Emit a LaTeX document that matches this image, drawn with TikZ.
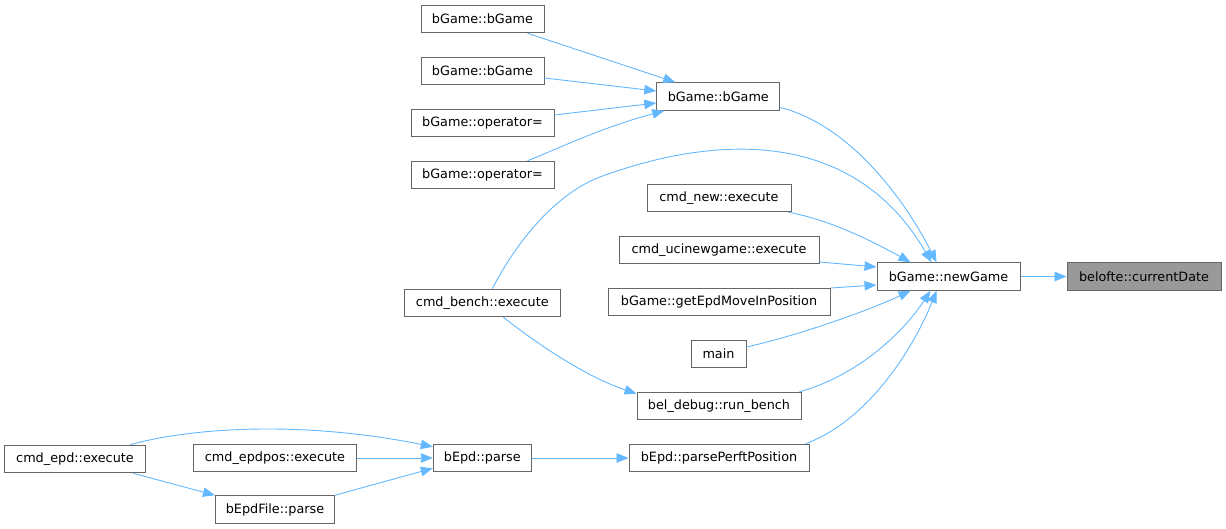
\documentclass[tikz,border=0pt]{standalone}
\usepackage{fontspec}
\setmainfont{DejaVu Sans}
\usetikzlibrary{arrows.meta,calc}
\definecolor{edgeblue}{HTML}{63B8FF}
\definecolor{boxgray}{HTML}{666666}
\definecolor{hlfill}{HTML}{999999}
\begin{document}
\begin{tikzpicture}[x=1pt,y=-1pt,
  fn/.style={draw=boxgray,line width=1pt,fill=white,minimum height=27.5pt,inner sep=0pt,
    font=\fontsize{12.8}{15}\selectfont,text=black},
  hl/.style={fn,fill=hlfill},
  call/.style={draw=edgeblue,line width=0.9pt,-{Triangle[length=12pt,width=9.5pt,fill=edgeblue]}}]
\useasboundingbox (0,0) rectangle (1226,529);
% nodes
\node[hl,minimum width=154pt] (cur) at (1144,276.5) {belofte::currentDate};
\node[fn,minimum width=143pt] (ng) at (948.5,276.5) {bGame::newGame};
\node[fn,minimum width=123pt] (bg) at (718.3,96.5) {bGame::bGame};
\node[fn,minimum width=123pt] (bga) at (482.5,19) {bGame::bGame};
\node[fn,minimum width=123pt] (bgb) at (482.5,71) {bGame::bGame};
\node[fn,minimum width=143pt] (opa) at (482.5,123) {bGame::operator=};
\node[fn,minimum width=143pt] (opb) at (482.5,175) {bGame::operator=};
\node[fn,minimum width=144pt] (cn) at (719,198) {cmd\_new::execute};
\node[fn,minimum width=200pt] (cu) at (719,250) {cmd\_ucinewgame::execute};
\node[fn,minimum width=222pt] (ge) at (719,302) {bGame::getEpdMoveInPosition};
\node[fn,minimum width=55pt] (mn) at (718.5,354) {main};
\node[fn,minimum width=156pt] (cb) at (482.3,303) {cmd\_bench::execute};
\node[fn,minimum width=164pt] (bd) at (719,406) {bel\_debug::run\_bench};
\node[fn,minimum width=180pt] (pp) at (719,458) {bEpd::parsePerftPosition};
\node[fn,minimum width=98pt] (ep) at (482.3,458) {bEpd::parse};
\node[fn,minimum width=163pt] (epos) at (275,458) {cmd\_epdpos::execute};
\node[fn,minimum width=141pt] (ce) at (75,459) {cmd\_epd::execute};
\node[fn,minimum width=119pt] (ef) at (275,509.5) {bEpdFile::parse};
% edges
\draw[call] (ng.east) -- (cur.west);
\draw[call] ($(bga.south)+(45,0)$) -- ($(bg.north west)+(19,0)$);
\draw[call] ($(bgb.east)+(0,7)$) -- ($(bg.west)+(0,-5.5)$);
\draw[call] ($(opa.east)+(0,-8)$) -- ($(bg.west)+(0,6.5)$);
\draw[call] ($(opb.north)+(45,0)$) .. controls (560,148) and (600,128) .. ($(bg.south west)+(8,0)$);
\draw[call] ($(bg.east)+(0,11)$) .. controls (850,125) and (905,200) .. ($(ng.north)+(-12,0)$);
\draw[call] ($(cb.north)+(10,0)$) .. controls (520,235) and (560,192) .. (600,177)
  .. controls (670,151) and (840,105) .. ($(ng.north)+(-17,0)$);
\draw[call] ($(cn.south east)+(-3,0)$) .. controls (830,220) and (870,240) .. ($(ng.north)+(-38,0)$);
\draw[call] ($(cu.east)+(0,12)$) -- ($(ng.west)+(0,-9.5)$);
\draw[call] ($(ge.east)+(0,-14)$) -- ($(ng.west)+(0,8.5)$);
\draw[call] ($(mn.east)+(0,-7)$) .. controls (800,335) and (870,310) .. ($(ng.south)+(-38,0)$);
\draw[call] ($(bd.north east)+(-2,0)$) .. controls (860,375) and (905,330) .. ($(ng.south)+(-18,0)$);
\draw[call] ($(pp.north east)+(-4,0)$) .. controls (870,420) and (915,345) .. ($(ng.south)+(-12,0)$);
\draw[call] ($(cb.south)+(21,0)$) .. controls (545,350) and (590,378) .. ($(bd.north west)+(0,2)$);
\draw[call] (ep.east) -- (pp.west);
\draw[call] ($(ce.north)+(55,0)$) .. controls (190,428) and (300,420) .. ($(ep.north west)+(0,3)$);
\draw[call] (epos.east) -- (ep.west);
\draw[call] ($(ef.north east)+(0,0)$) -- ($(ep.south west)+(0,-4)$);
\draw[call] ($(ce.south)+(58,0)$) -- ($(ef.north west)+(0,0)$);
\end{tikzpicture}
\end{document}
